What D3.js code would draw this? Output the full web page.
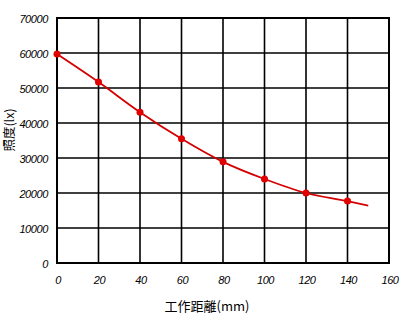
<!DOCTYPE html>
<html><head><meta charset="utf-8">
<script src="https://cdn.jsdelivr.net/npm/d3@7"></script>
<style>body{margin:0;background:#fff}</style>
</head><body>
<svg id="c" width="400" height="329"></svg>
<script>
const distances = [0, 20, 40, 60, 80, 100, 120, 140, 150];
const illuminance = [59700, 51700, 43100, 35500, 28900, 24000, 20000, 17700, 16400];
const marked = [true, true, true, true, true, true, true, true, false];
const xTicks = [0, 20, 40, 60, 80, 100, 120, 140, 160];
const yTicks = [0, 10000, 20000, 30000, 40000, 50000, 60000, 70000];
const xTitle = "工作距離(mm)";
const yTitle = "照度(lx)";

const svg = d3.select("#c");
const L = 57, R = 389, T = 18, B = 263;
const x = d3.scaleLinear().domain([0, 160]).range([L, R]);
const y = d3.scaleLinear().domain([0, 70000]).range([B, T]);

const g = svg.append("g");
g.selectAll(".vx").data(xTicks).join("line")
  .attr("x1", d => x(d)).attr("x2", d => x(d)).attr("y1", T).attr("y2", B)
  .attr("stroke", "#000").attr("stroke-width", 1.6);
g.selectAll(".hy").data(yTicks).join("line")
  .attr("y1", d => y(d)).attr("y2", d => y(d)).attr("x1", L).attr("x2", R)
  .attr("stroke", "#000").attr("stroke-width", 1.6);
g.append("rect").attr("x", L).attr("y", T).attr("width", R - L).attr("height", B - T)
  .attr("fill", "none").attr("stroke", "#000").attr("stroke-width", 2);

const font = "Liberation Sans, Arial, sans-serif";
svg.selectAll(".yl").data(yTicks).join("text")
  .attr("x", 48).attr("y", d => y(d) + 5)
  .attr("text-anchor", "end").attr("font-family", font).attr("font-size", 11)
  .attr("font-style", "italic").attr("letter-spacing", -0.4).attr("fill", "#000").text(d => d);
svg.selectAll(".xl").data(xTicks).join("text")
  .attr("x", d => x(d) + 1).attr("y", 284)
  .attr("text-anchor", "middle").attr("font-family", font).attr("font-size", 11)
  .attr("font-style", "italic").attr("letter-spacing", -0.4).attr("fill", "#000").text(d => d);

svg.append("text").attr("x", 207).attr("y", 311).attr("text-anchor", "middle")
  .attr("font-family", "Noto Sans CJK JP, sans-serif").attr("font-size", 13).attr("fill", "#000").text(xTitle);
svg.append("text").attr("transform", "translate(14,130) rotate(-90)").attr("text-anchor", "middle")
  .attr("font-family", "Noto Sans CJK JP, sans-serif").attr("font-size", 12.5).attr("fill", "#000").text(yTitle);

const pts = distances.map((d, i) => ({x: d, y: illuminance[i], m: marked[i]}));
const line = d3.line().x(d => x(d.x)).y(d => y(d.y)).curve(d3.curveMonotoneX);
svg.append("path").datum(pts).attr("d", line).attr("fill", "none")
  .attr("stroke", "#d40000").attr("stroke-width", 1.8);
svg.selectAll(".pt").data(pts.filter(d => d.m)).join("circle")
  .attr("cx", d => x(d.x)).attr("cy", d => y(d.y)).attr("r", 3.5).attr("fill", "#e00000");
</script>
</body></html>
